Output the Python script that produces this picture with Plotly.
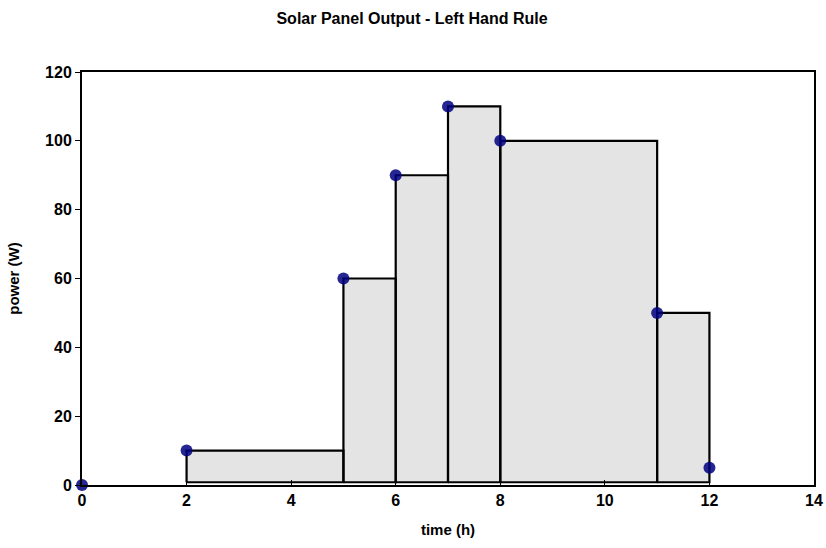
import plotly.graph_objects as go

# data
time_h = [0, 2, 5, 6, 7, 8, 11, 12]
power_w = [0, 10, 60, 90, 110, 100, 50, 5]
rect_base = 0.8  # rectangles sit just above the axis in the original

x_ticks = list(range(0, 15, 2))
y_ticks = list(range(0, 121, 20))

# left-hand rule rectangles: from each point (excluding first) to the next
rx, ry = [], []
for i in range(1, len(time_h) - 1):
    l, r, h = time_h[i], time_h[i + 1], power_w[i]
    rx += [l, l, r, r, l, None]
    ry += [rect_base, h, h, rect_base, rect_base, None]

FONT = "Liberation Sans, Arial, sans-serif"

fig = go.Figure()
fig.add_trace(go.Scatter(
    x=rx, y=ry, mode="lines", fill="toself", fillcolor="#e4e4e4",
    line=dict(color="black", width=2.2), hoverinfo="skip", showlegend=False,
))
fig.add_trace(go.Scatter(
    x=time_h, y=power_w, mode="markers",
    marker=dict(color="#000080", size=12, opacity=0.85),
    showlegend=False, cliponaxis=False,
))

W, H = 826, 548
fig.update_layout(
    width=W, height=H,
    margin=dict(l=82, r=12, t=72, b=63),
    paper_bgcolor="white", plot_bgcolor="white",
    title=dict(text="<b>Solar Panel Output - Left Hand Rule</b>", x=412 / W, xanchor="center",
               y=1 - 18 / H, yanchor="middle",
               font=dict(family=FONT, size=16, color="black")),
    xaxis=dict(range=[0, 14], tickvals=x_ticks, automargin=False,
               ticktext=[f"<b>{v}</b>" for v in x_ticks],
               showgrid=False, zeroline=False, showline=True, linecolor="black", linewidth=2,
               mirror=True, ticks="inside", ticklen=5, tickwidth=1, tickcolor="black",
               tickfont=dict(family=FONT, size=16, color="black"),
               title=dict(text="<b>time (h)</b>", font=dict(family=FONT, size=15, color="black"), standoff=16)),
    yaxis=dict(range=[0, 120], tickvals=y_ticks, automargin=False,
               ticktext=[f"<b>{v}</b>" for v in y_ticks],
               showgrid=False, zeroline=False, showline=True, linecolor="black", linewidth=2,
               mirror=True, ticks="outside", ticklen=5, tickwidth=1, tickcolor="black",
               tickfont=dict(family=FONT, size=16, color="black"),
               title=dict(text="<b>power (W)</b>", font=dict(family=FONT, size=15, color="black"), standoff=22)),
)
fig.write_html(
    "out.html",
    config={"displayModeBar": False},
    post_script="document.body.style.margin='0';document.body.style.overflow='hidden';",
)
